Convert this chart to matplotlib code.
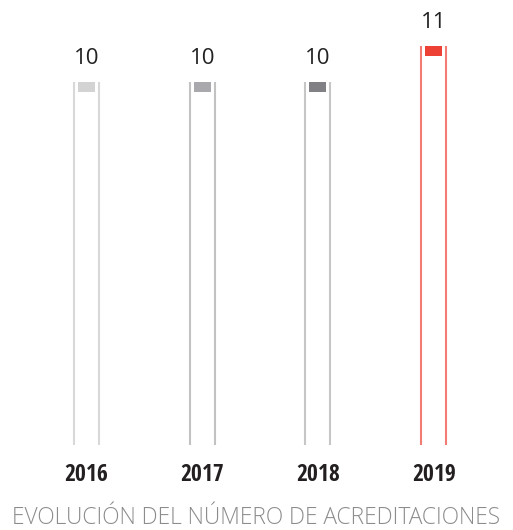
import matplotlib.pyplot as plt

# data
years = ['2016', '2017', '2018', '2019']
values = [10, 10, 10, 11]
line_colors = ['#d8d8d8', '#c2c2c2', '#c6c6c6', '#f27b73']
cap_colors = ['#d3d3d3', '#a9a9ad', '#808085', '#ee4136']
caption = 'EVOLUCIÓN DEL NÚMERO DE ACREDITACIONES'

fig = plt.figure(figsize=(5.13, 5.30), dpi=100)
ax = fig.add_axes([0.0557, 0.1604, 0.9025, 0.8212])
ax.set_xlim(-0.5, 3.5)
ax.set_ylim(0, 12)
ax.axis('off')

x = list(range(len(years)))
half = 0.108
cap_h = 0.28
for i, v in enumerate(values):
    ax.vlines([x[i] - half, x[i] + half], 0, v, colors=line_colors[i], lw=1.5)
    ax.bar(x[i], cap_h, bottom=v - cap_h, width=0.146, color=cap_colors[i])
    ax.text(x[i], v + 0.66, str(v), ha='center', va='center',
            fontsize=16, family='Open Sans', fontweight=400, color='#222222')
    ax.text(x[i], -0.84, years[i], ha='center', va='center', fontsize=17,
            family='Open Sans Condensed', fontweight='bold',
            color='#231f20', clip_on=False)

fig.text(0.5, 0.022, caption, ha='center', va='center', fontsize=16.4,
         family='Open Sans', fontweight=300, color='#8c8c8c')

fig.savefig('out.png', dpi=100)
